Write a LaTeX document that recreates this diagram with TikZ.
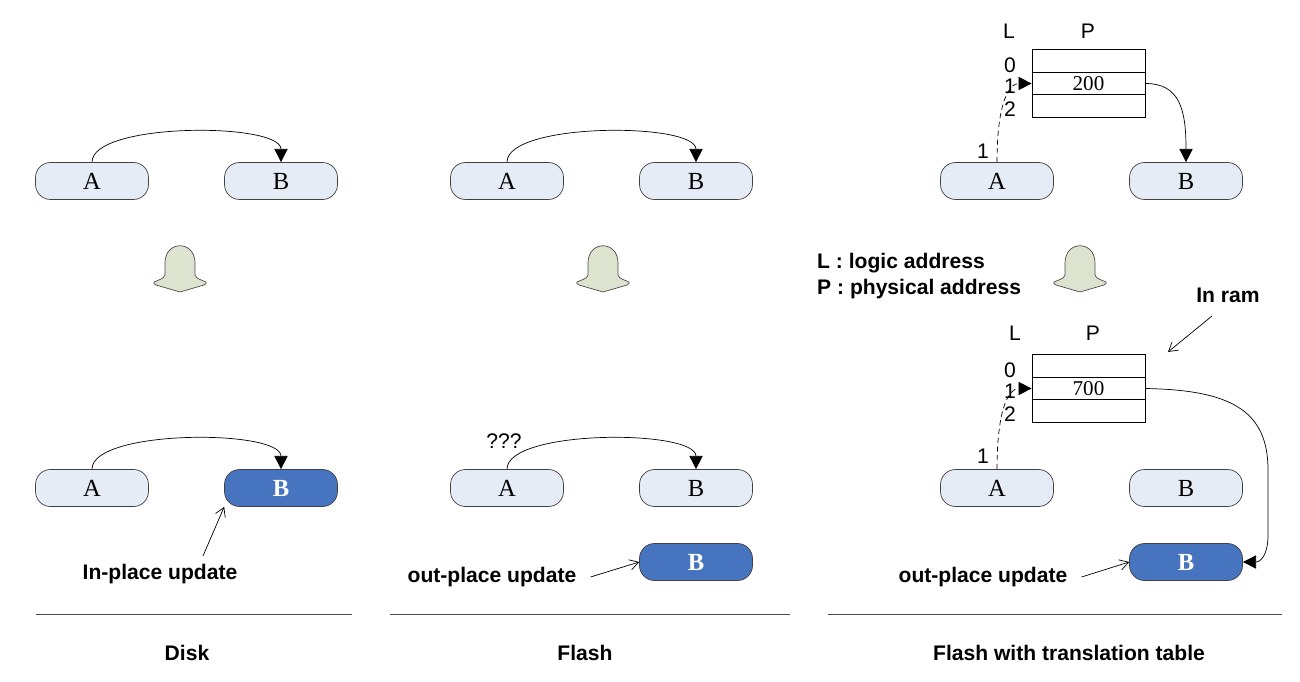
\documentclass[tikz,border=0pt]{standalone}
\usepackage{fontspec}
\setmainfont{Liberation Serif}
\setsansfont{Liberation Sans}
\usetikzlibrary{arrows.meta}
\definecolor{blkfill}{HTML}{E6ECF6}
\definecolor{newfill}{HTML}{4774BE}
\definecolor{bellfill}{HTML}{DDE3CF}
\tikzset{
  blk/.style={draw=black!75, fill=blkfill, rounded corners=0.3cm,
    minimum width=2.26cm, minimum height=0.74cm, inner sep=0pt,
    font=\fontsize{14}{16}\selectfont},
  newblk/.style={blk, fill=newfill, text=white,
    font=\fontsize{14}{16}\selectfont\bfseries},
  cell/.style={draw, minimum width=2.26cm, minimum height=0.45cm,
    inner sep=0pt, font=\fontsize{12}{14}\selectfont},
  lbl/.style={font=\sffamily\bfseries\fontsize{12}{14}\selectfont},
  txt/.style={font=\sffamily\fontsize{12}{14}\selectfont},
  ptr/.style={-{Triangle[length=7.5pt,width=7.5pt]}, thin},
  note/.style={-{Straight Barb[length=5pt,width=6pt]}, thin}
}
% grey-green step arrow, x = centre, y = top
\newcommand{\downbell}[2]{%
  \filldraw[fill=bellfill, draw=black!70, thin, shift={(#1,#2)}]
    (-15,30) -- (-15,18) .. controls (-15,-5) and (15,-5) .. (15,18)
    -- (15,30) .. controls (16,34) and (22,35) .. (26,37)
    .. controls (27,38) and (26,39) .. (24,40) -- (0,47) -- (-24,40)
    .. controls (-26,39) and (-27,38) .. (-26,37)
    .. controls (-22,35) and (-16,34) .. (-15,30) -- cycle;}
\begin{document}
\begin{tikzpicture}[x=0.02cm, y=-0.02cm]
  \useasboundingbox (0,0) rectangle (1300,682);
  % Disk
  \node[blk] (dA) at (92,181) {A};
  \node[blk] (dB) at (281,181) {B};
  \draw[ptr] (dA.north) .. controls +(0,-40) and +(0,-40) .. (dB.north);
  \downbell{180}{245}
  \node[blk] (dA2) at (92,488) {A};
  \node[newblk] (dB2) at (281,488) {B};
  \draw[ptr] (dA2.north) .. controls +(0,-40) and +(0,-40) .. (dB2.north);
  \node[lbl] (inplace) at (160,574) {In-place update};
  \draw[note] (203,556) -- (dB2.south west);
  % Flash
  \node[blk] (fA) at (507,181) {A};
  \node[blk] (fB) at (696,181) {B};
  \draw[ptr] (fA.north) .. controls +(0,-40) and +(0,-40) .. (fB.north);
  \downbell{603}{245}
  \node[blk] (fA2) at (507,488) {A};
  \node[blk] (fB2) at (696,488) {B};
  \draw[ptr] (fA2.north) .. controls +(0,-40) and +(0,-40) .. (fB2.north);
  \node[txt] (qq) at (504,441) {???};
  \node[newblk] (fN) at (696,562) {B};
  \node[lbl] (outplace) at (492,577) {out-place update};
  \draw[note] (outplace.east) ++(8,0) -- (fN.west);
  % Flash with translation table
  \node[txt] (tL) at (1009,31) {L};
  \node[txt] (tP) at (1088,31) {P};
  \node[cell] (t0) at (1088.5,61) {};
  \node[cell] (t1) at (1088.5,83.5) {200};
  \node[cell] (t2) at (1088.5,106) {};
  \node[txt] (n0) at (1010,65) {0};
  \node[txt] (n1) at (1010,86) {1};
  \node[txt] (n2) at (1010,109) {2};
  \node[txt] (k1) at (983,151) {1};
  \node[blk] (tA) at (997,181) {A};
  \node[blk] (tB) at (1186,181) {B};
  \draw[ptr, densely dashed] (tA.north) .. controls (997,100) and (1010,83.5) .. (t1.west);
  \draw[ptr] (t1.east) .. controls (1180,83.5) and (1186,110) .. (tB.north);
  \downbell{1080}{245}
  \node[lbl, anchor=west] (keyL) at (811,263) {L : logic address};
  \node[lbl, anchor=west] (keyP) at (811,289) {P : physical address};
  \node[lbl] (ram) at (1228,295) {In ram};
  \draw[note] (1212,316) -- (1168,352);
  \node[txt] (bL) at (1015,333) {L};
  \node[txt] (bP) at (1093,333) {P};
  \node[cell] (b0) at (1088.5,366) {};
  \node[cell] (b1) at (1088.5,388.5) {700};
  \node[cell] (b2) at (1088.5,411) {};
  \node[txt] (m0) at (1010,370) {0};
  \node[txt] (m1) at (1010,391) {1};
  \node[txt] (m2) at (1010,414) {2};
  \node[txt] (k2) at (983,456) {1};
  \node[blk] (tA2) at (997,488) {A};
  \node[blk] (tB2) at (1186,488) {B};
  \draw[ptr, densely dashed] (tA2.north) .. controls (997,405) and (1010,388.5) .. (b1.west);
  \node[newblk] (tN) at (1186,562) {B};
  \draw[ptr] (b1.east) .. controls (1230,390) and (1268,410) .. (1268,470)
    -- (1268,535) .. controls (1268,556) and (1260,562) .. (tN.east);
  \node[lbl] (outplace2) at (983,577) {out-place update};
  \draw[note] (outplace2.east) ++(8,0) -- (tN.west);
  % captions
  \draw[black!70] (36,614) -- (352,614);
  \draw[black!70] (390,614) -- (790,614);
  \draw[black!70] (828,614) -- (1282,614);
  \node[lbl] (cDisk) at (187,653) {Disk};
  \node[lbl] (cFlash) at (585,653) {Flash};
  \node[lbl] (cTrans) at (1069,653) {Flash with translation table};
\end{tikzpicture}
\end{document}
